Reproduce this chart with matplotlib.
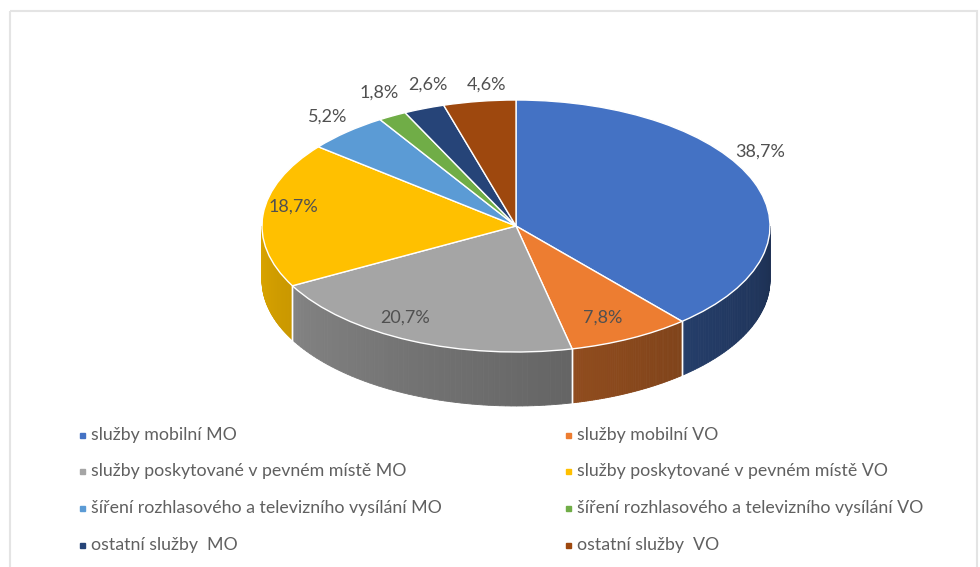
import numpy as np
import matplotlib.pyplot as plt
from matplotlib.colors import to_rgb
from matplotlib.patches import Rectangle

plt.rcParams['font.family'] = ['Lato', 'DejaVu Sans']

# podíl jednotlivých druhů služeb (%)
categories = [
    "služby mobilní MO",
    "služby mobilní VO",
    "služby poskytované v pevném místě MO",
    "služby poskytované v pevném místě VO",
    "šíření rozhlasového a televizního vysílání MO",
    "šíření rozhlasového a televizního vysílání VO",
    "ostatní služby  MO",
    "ostatní služby  VO",
]
shares = [38.7, 7.8, 20.7, 18.7, 5.2, 1.8, 2.6, 4.6]
colors = ["#4472C4", "#ED7D31", "#A5A5A5", "#FFC000",
          "#5B9BD5", "#70AD47", "#264478", "#9E480E"]

# umístění popisků (px)
label_pos = [(760, 152), (603, 318), (405, 318), (293, 207),
             (328, 117), (379, 93), (428, 85), (486, 85)]

W, H = 980, 567
CX, CY, RX, RY = 516, 226, 254, 126   # střed a poloosy horní plochy
D = 54 / RY                            # výška boku koláče

fig = plt.figure(figsize=(W / 100, H / 100), dpi=100)

# koláč - horní plocha, elipsa díky aspect='auto'
ax = fig.add_axes([0, 0, 1, 1])
wedges, _ = ax.pie(shares, colors=colors, startangle=90, counterclock=False,
                   wedgeprops=dict(edgecolor='white', linewidth=1.0))
ax.set_aspect('auto')
ax.set_xlim(-CX / RX, (W - CX) / RX)
ax.set_ylim(-(H - CY) / RY, CY / RY)
ax.axis('off')

# boky koláče (jen přední polovina), se stínováním
for w in wedges:
    w.set_zorder(3)
    lo, hi = max(w.theta1, -180), min(w.theta2, 0)
    if hi <= lo:
        continue
    base = np.array(to_rgb(w.get_facecolor()))
    t = np.radians(np.linspace(lo, hi, 60))
    for t0, t1 in zip(t[:-1], t[1:]):
        f = 0.86 - 0.44 * ((np.degrees((t0 + t1) / 2) + 180) / 180)
        xs = [np.cos(t0), np.cos(t1), np.cos(t1), np.cos(t0)]
        ys = [np.sin(t0), np.sin(t1), np.sin(t1) - D, np.sin(t0) - D]
        ax.fill(xs, ys, color=np.clip(base * f, 0, 1), lw=0.6, zorder=1)
    for a in (w.theta1, w.theta2):
        if -180 < a < 0:
            r = np.radians(a)
            ax.plot([np.cos(r)] * 2, [np.sin(r), np.sin(r) - D],
                    color='white', lw=1.0, zorder=2)

# popisky a legenda v pixelových souřadnicích
ax2 = fig.add_axes([0, 0, 1, 1], zorder=5)
ax2.set_xlim(0, W)
ax2.set_ylim(H, 0)
ax2.axis('off')

for v, (x, y) in zip(shares, label_pos):
    ax2.text(x, y, f"{v:.1f}%".replace('.', ','), ha='center', va='center',
             fontsize=13, color='#505050')

rows = [435, 471, 508, 545]
for i, (cat, col) in enumerate(zip(categories, colors)):
    mx = [82, 568][i % 2]
    y = rows[i // 2]
    ax2.plot(mx, y, marker='s', ms=3.6, color=col, ls='none')
    ax2.text(mx + 9, y, cat, va='center', fontsize=12.8, color='#606060')

ax2.add_patch(Rectangle((10, 11), 967, 620, fill=False, edgecolor='#e4e4e4',
                        lw=1.5, clip_on=False))

fig.savefig('out.png', dpi=100, facecolor='white')
